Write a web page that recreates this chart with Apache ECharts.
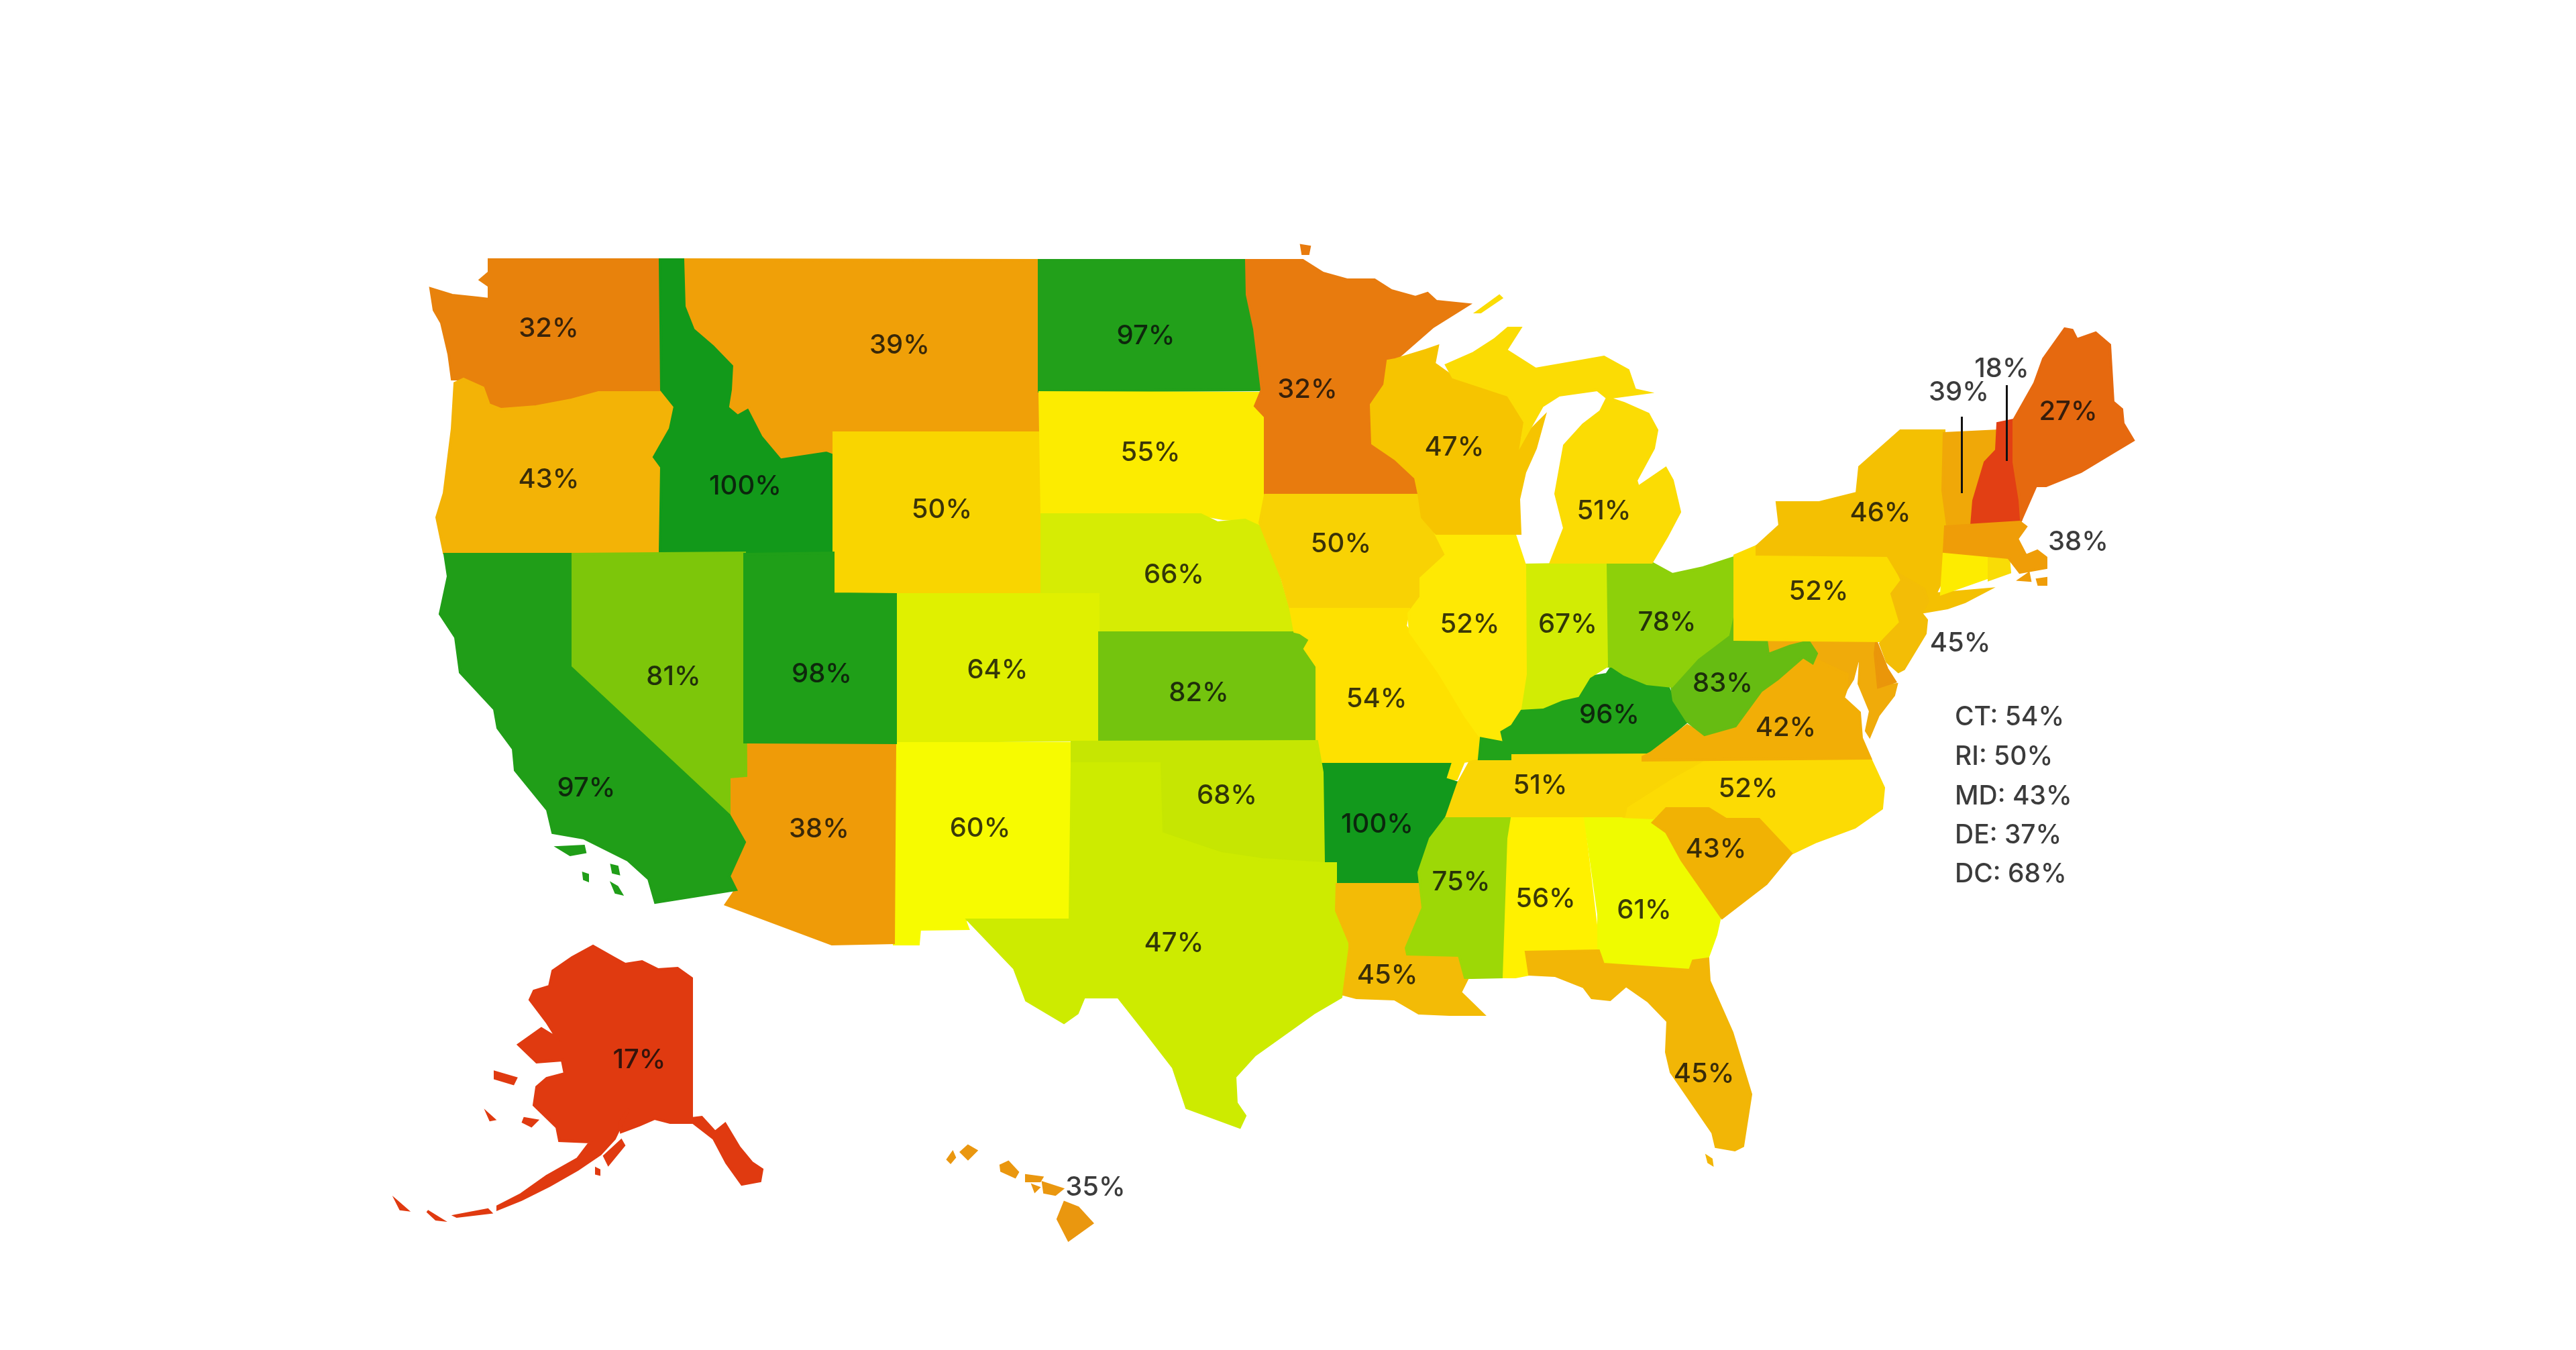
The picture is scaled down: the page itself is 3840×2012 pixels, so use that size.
<!DOCTYPE html>
<html>
<head>
<meta charset="utf-8">
<style>
  html, body { margin: 0; padding: 0; background: #fff; }
  #main { width: 3840px; height: 2012px; }
</style>
<script src="https://cdn.jsdelivr.net/npm/echarts@6/dist/echarts.min.js"></script>
</head>
<body>
<div id="main"></div>
<script>
// values
var stateNames = ["WA","OR","ID","MT","ND","SD","WY","NE","CO","UT","NV","CA","AZ","NM","KS","OK","TX","MN","IA","MO","AR","LA","WI","IL","MI","IN","OH","KY","TN","MS","AL","GA","FL","SC","NC","VA","WV","PA","NY","NJ","VT","NH","ME","MA","AK","HI"];
var stateValues = [32,43,100,39,97,55,50,66,64,98,81,97,38,60,82,68,47,32,50,54,100,45,47,52,51,67,78,96,51,75,56,61,45,43,52,42,83,52,46,45,39,18,27,38,17,35];
var stateColors = ["#e8820c","#f3b306","#12991a","#f0a008","#22a01a","#fcec00","#f9d500","#d6ec04","#e0f000","#1f9f18","#7dc60a","#209e18","#ef9b08","#f7fb00","#74c40e","#c6e602","#cdeb00","#e87b0e","#f8d204","#fee100","#12991c","#f3bb06","#f6c400","#fee904","#fbdc04","#d2ec04","#8dd00a","#22a31a","#f9d504","#9dd806","#fff100","#effb00","#f2b606","#f1b204","#fcdb04","#f2ae06","#66bc12","#fcdc00","#f4c002","#f3bd06","#f0a808","#e23f14","#e6690f","#ef9d08","#e03a10","#ea970f"];
var labelSpots = [[818,490],[818,715],[1111,725],[1341,515],[1708,501],[1715,675],[1404,760],[1750,857],[1487,999],[1225,1005],[1004,1009],[874,1175],[1221,1236],[1461,1235],[1787,1033],[1829,1186],[1750,1406],[1949,581],[1999,811],[2052,1042],[2053,1229],[2068,1454],[2168,667],[2191,931],[2391,762],[2337,931],[2485,928],[2399,1066],[2296,1171],[2178,1315],[2304,1340],[2451,1357],[2540,1601],[2558,1266],[2606,1176],[2662,1085],[2568,1019],[2711,882],[2803,765],[2922,959],[2920,585],[2984,550],[3083,614],[3098,808],[953,1580],[1633,1770]];

// small states that are only listed beside the map
var listNames = ["CT","RI","MD","DE","DC"];
var listValues = [54,50,43,37,68];
var listX = 2914;
var listY = [1069,1128,1187,1245,1303];
var extraNames = ["CT","RI","MD","DE"];
var extraColors = ["#fdec00","#f9dc06","#f0ab0a","#ea960a"];

// leader lines for VT and NH
var leaderLines = [
  [[2924,621],[2924,735]],
  [[2991,574],[2991,687]]
];

// outlines, one list of rings per state, in picture units
var shapes = {
  WA: [[[984,387],[729,387],[729,406],[716,417],[729,426],[729,446],[712,444],[674,440],[642,430],[647,462],[658,481],[669,528],[674,565],[691,565],[720,578],[729,603],[747,610],[799,606],[852,596],[892,585],[986,584]]],
  OR: [[[678,571],[691,565],[720,578],[729,603],[747,610],[799,606],[852,596],[892,585],[986,585],[1006,606],[999,639],[975,681],[986,696],[983,824],[662,824],[651,771],[662,735],[674,639]]],
  ID: [[[984,387],[1022,387],[1024,456],[1037,489],[1066,514],[1095,544],[1093,581],[1089,606],[1100,615],[1116,606],[1138,649],[1165,681],[1232,671],[1240,674],[1243,824],[984,824],[986,696],[975,681],[999,639],[1006,606],[986,581]]],
  MT: [[[1022,387],[1549,388],[1549,643],[1243,646],[1240,674],[1232,671],[1165,681],[1138,649],[1116,606],[1100,615],[1089,606],[1093,581],[1095,544],[1066,514],[1037,489],[1024,456]]],
  WY: [[[1243,645],[1550,645],[1552,884],[1243,884]]],
  ND: [[[1549,388],[1856,388],[1859,439],[1871,490],[1882,581],[1549,583]]],
  SD: [[[1550,585],[1882,586],[1871,605],[1887,621],[1887,736],[1882,783],[1859,775],[1823,773],[1790,767],[1553,767]]],
  NE: [[[1553,767],[1790,767],[1815,779],[1856,775],[1882,787],[1899,834],[1920,906],[1930,941],[1639,941],[1637,886],[1553,884]]],
  CO: [[[1336,886],[1637,886],[1637,1103],[1336,1105]]],
  KS: [[[1639,943],[1938,943],[1953,953],[1945,967],[1963,993],[1963,1103],[1639,1103]]],
  NM: [[[1334,1108],[1597,1108],[1595,1371],[1438,1371],[1443,1384],[1371,1385],[1369,1407],[1333,1407]]],
  AZ: [[[1112,1109],[1334,1109],[1332,1405],[1240,1407],[1082,1348],[1097,1326],[1087,1306],[1110,1255],[1087,1215],[1087,1158],[1112,1156]]],
  NV: [[[850,826],[1110,824],[1112,1156],[1087,1158],[1087,1215],[850,994]]],
  UT: [[[1110,826],[1242,824],[1242,885],[1335,886],[1335,1107],[1110,1106]]],
  CA: [[[663,826],[850,826],[850,994],[1087,1215],[1110,1255],[1087,1306],[1097,1326],[977,1345],[967,1310],[936,1282],[870,1249],[824,1241],[816,1207],[768,1148],[765,1116],[742,1085],[737,1057],[686,1002],[679,950],[656,915],[668,859]],
       [[832,1263],[870,1261],[872,1270],[850,1274]],[[912,1290],[920,1292],[922,1302],[914,1300]],[[870,1302],[876,1304],[876,1312],[871,1310]],[[913,1318],[920,1322],[926,1332],[918,1330]]],
  MN: [[[1858,388],[1942,388],[1972,407],[2008,417],[2049,417],[2074,433],[2110,443],[2128,437],[2141,449],[2189,454],[2136,487],[2080,536],[2069,538],[2064,574],[2044,603],[2046,661],[2080,684],[2110,712],[2113,736],[1886,736],[1886,621],[1871,605],[1881,581],[1870,490],[1859,439]],
       [[1940,366],[1952,368],[1950,378],[1942,378]]],
  IA: [[[1886,738],[2115,738],[2120,771],[2141,795],[2156,827],[2118,862],[2118,890],[2100,908],[1924,908],[1911,862],[1878,779]]],
  MO: [[[1924,908],[2100,908],[2095,933],[2102,942],[2145,1002],[2185,1068],[2205,1096],[2205,1131],[2182,1135],[2171,1161],[2154,1161],[2160,1139],[1968,1139],[1963,1103],[1963,993],[1945,967],[1953,953],[1938,943],[1930,941]]],
  AR: [[[1971,1139],[2161,1139],[2154,1161],[2174,1167],[2162,1205],[2122,1272],[2114,1316],[1993,1316],[1993,1288],[1973,1286]]],
  OK: [[[1598,1106],[1963,1105],[1971,1151],[1973,1285],[1882,1280],[1820,1271],[1734,1242],[1729,1137],[1598,1137]]],
  TX: [[[1598,1138],[1728,1138],[1731,1242],[1820,1272],[1882,1281],[1973,1287],[1991,1287],[1991,1357],[2012,1405],[1999,1486],[1958,1510],[1871,1572],[1841,1605],[1843,1644],[1856,1663],[1848,1680],[1769,1651],[1749,1591],[1708,1538],[1667,1486],[1616,1486],[1606,1510],[1586,1524],[1530,1491],[1512,1443],[1443,1371],[1595,1371]]],
  LA: [[[1993,1318],[2115,1318],[2121,1353],[2096,1413],[2098,1422],[2175,1424],[2187,1459],[2177,1479],[2211,1512],[2161,1512],[2115,1510],[2079,1489],[2022,1487],[2003,1482],[2012,1413],[2012,1405],[1992,1357]]],
  MS: [[[2157,1217],[2251,1217],[2239,1456],[2194,1457],[2184,1457],[2175,1424],[2098,1422],[2096,1413],[2121,1353],[2115,1300],[2132,1250]]],
  AL: [[[2254,1219],[2360,1219],[2383,1412],[2383,1417],[2275,1419],[2280,1452],[2259,1456],[2242,1456],[2249,1250]]],
  GA: [[[2363,1219],[2467,1219],[2484,1237],[2507,1282],[2564,1366],[2558,1393],[2546,1426],[2524,1432],[2519,1446],[2390,1436],[2383,1416],[2383,1363],[2371,1277]]],
  FL: [[[2275,1419],[2383,1417],[2390,1437],[2519,1446],[2524,1432],[2546,1429],[2548,1462],[2582,1539],[2610,1631],[2598,1708],[2586,1714],[2558,1709],[2553,1688],[2491,1598],[2484,1568],[2486,1522],[2457,1492],[2424,1469],[2400,1490],[2373,1487],[2361,1471],[2318,1454],[2280,1452]],
       [[2545,1724],[2551,1728],[2552,1735],[2547,1732]]],
  NC: [[[2536,1133],[2788,1131],[2808,1174],[2805,1205],[2765,1233],[2708,1254],[2670,1272],[2622,1221],[2573,1221],[2547,1205],[2484,1205],[2464,1219],[2421,1217],[2424,1202],[2490,1160]]],
  SC: [[[2464,1226],[2484,1205],[2547,1205],[2573,1221],[2622,1221],[2670,1272],[2633,1317],[2567,1368],[2507,1282],[2484,1240]]],
  TN: [[[2191,1136],[2251,1124],[2449,1124],[2538,1133],[2490,1160],[2424,1202],[2421,1216],[2157,1216],[2174,1167]]],
  KY: [[[2205,1131],[2208,1100],[2234,1102],[2237,1084],[2254,1079],[2263,1056],[2300,1054],[2329,1042],[2352,1037],[2369,1009],[2395,1005],[2403,993],[2421,1005],[2455,1019],[2484,1018],[2495,1044],[2515,1075],[2461,1121],[2251,1122],[2251,1131]]],
  MD: [[[2636,975],[2634,955],[2797,957],[2797,1024],[2827,1020],[2823,1036],[2800,1066],[2787,1097],[2782,1089],[2788,1060],[2771,1019],[2773,985],[2769,985],[2762,1012],[2752,1028],[2754,1005],[2708,984]]],
  DE: [[[2797,957],[2813,997],[2825,1016],[2800,1024],[2795,974]]],
  VA: [[[2449,1128],[2461,1122],[2515,1081],[2541,1095],[2587,1082],[2625,1030],[2650,1012],[2688,979],[2708,984],[2754,1005],[2752,1028],[2748,1040],[2772,1062],[2775,1100],[2788,1130],[2449,1133]]],
  WV: [[[2586,900],[2586,954],[2633,954],[2636,975],[2668,963],[2696,956],[2708,974],[2702,988],[2688,979],[2650,1012],[2625,1030],[2587,1082],[2541,1095],[2515,1075],[2495,1044],[2492,1023],[2530,981],[2576,946]]],
  OH: [[[2396,840],[2462,839],[2493,856],[2539,846],[2585,831],[2586,902],[2576,946],[2530,981],[2492,1023],[2455,1019],[2421,1005],[2403,993],[2395,993]]],
  IN: [[[2272,842],[2393,840],[2395,993],[2369,1009],[2352,1037],[2329,1042],[2300,1054],[2263,1056],[2272,1005]]],
  IL: [[[2141,797],[2258,797],[2273,842],[2274,1005],[2266,1056],[2251,1079],[2234,1089],[2237,1102],[2205,1096],[2185,1068],[2145,1002],[2102,942],[2100,914],[2118,890],[2118,862],[2156,827]]],
  WI: [[[2080,536],[2126,522],[2143,516],[2138,542],[2166,562],[2248,589],[2273,629],[2263,660],[2302,621],[2289,668],[2273,704],[2264,744],[2266,795],[2141,795],[2120,771],[2115,736],[2110,712],[2080,684],[2046,661],[2044,603],[2064,574],[2069,538]]],
  MI: [[[2156,544],[2197,526],[2228,506],[2248,489],[2266,489],[2245,522],[2289,550],[2335,542],[2391,532],[2427,552],[2437,581],[2455,585],[2396,593],[2381,581],[2324,589],[2299,605],[2268,660],[2273,629],[2248,589],[2166,562]],
       [[2396,593],[2421,601],[2457,617],[2470,641],[2465,668],[2439,716],[2442,726],[2483,698],[2493,716],[2504,763],[2485,799],[2462,838],[2312,838],[2332,787],[2319,736],[2332,664],[2360,633],[2386,613]],
       [[2202,465],[2235,441],[2238,444],[2207,465]]],
  PA: [[[2586,828],[2619,814],[2619,826],[2814,828],[2835,865],[2820,885],[2833,928],[2803,955],[2586,953]]],
  NY: [[[2619,814],[2653,783],[2649,749],[2712,749],[2768,735],[2772,696],[2833,642],[2898,642],[2896,731],[2903,781],[2894,867],[2885,885],[2965,878],[2929,897],[2903,906],[2868,912],[2872,890],[2868,878],[2831,856],[2814,828],[2619,826]]],
  NJ: [[[2831,856],[2868,878],[2874,896],[2864,914],[2872,924],[2870,944],[2838,997],[2830,1001],[2813,986],[2803,959],[2833,928],[2820,885],[2835,865]]],
  CT: [[[2898,824],[2965,831],[2965,860],[2894,885]]],
  RI: [[[2965,830],[2994,831],[2996,853],[2965,864]]],
  VT: [[[2898,646],[2978,642],[2976,671],[2959,689],[2942,746],[2937,781],[2903,783],[2896,731]]],
  NH: [[[2978,631],[3002,626],[3002,689],[3011,746],[3013,774],[2994,783],[2939,783],[2942,746],[2959,689],[2976,671]]],
  ME: [[[3002,626],[3033,571],[3046,535],[3078,490],[3089,492],[3096,506],[3124,496],[3145,514],[3150,599],[3163,610],[3165,631],[3180,656],[3150,674],[3102,703],[3050,724],[3035,724],[3013,774],[3011,746],[3002,689]]],
  MA: [[[2900,785],[3011,778],[3020,785],[3007,803],[3020,828],[3037,821],[3050,831],[3050,846],[3011,853],[2994,831],[2898,822]],
       [[3011,864],[3024,855],[3026,865]],[[3037,864],[3050,862],[3050,871],[3039,871]]],
  AK: [[[884,1410],[914,1427],[932,1437],[957,1433],[981,1445],[1010,1443],[1031,1458],[1031,1667],[1046,1665],[1066,1687],[1081,1675],[1102,1710],[1121,1733],[1136,1743],[1133,1760],[1106,1765],[1083,1733],[1064,1697],[1033,1673],[999,1673],[976,1667],[953,1677],[926,1687],[924,1673],[937,1653],[916,1697],[895,1720],[861,1743],[819,1767],[777,1788],[742,1802],[742,1798],[777,1780],[815,1753],[861,1727],[880,1702],[834,1700],[830,1680],[796,1647],[800,1620],[815,1607],[842,1600],[838,1580],[800,1583],[773,1557],[807,1533],[830,1547],[815,1523],[790,1490],[796,1477],[819,1470],[824,1447],[853,1427]],
       [[738,1598],[769,1607],[765,1615],[738,1607]],[[782,1667],[800,1670],[792,1678],[780,1672]],[[926,1700],[930,1707],[907,1735],[901,1723]],[[727,1660],[736,1668],[731,1669]],[[889,1742],[893,1744],[893,1750],[889,1749]],
       [[591,1790],[606,1803],[597,1802]],[[637,1805],[658,1818],[650,1817]],[[679,1812],[727,1803],[731,1807],[681,1813]]],
  HI: [[[1587,1792],[1607,1800],[1628,1823],[1593,1848],[1577,1817]],[[1555,1763],[1583,1772],[1573,1780],[1557,1777]],[[1530,1752],[1553,1755],[1550,1760],[1530,1760]],[[1540,1767],[1548,1770],[1543,1775]],[[1492,1737],[1503,1732],[1517,1747],[1513,1754],[1493,1745]],[[1433,1717],[1443,1708],[1455,1715],[1443,1727]],[[1413,1728],[1420,1718],[1423,1725],[1417,1732]]]
};

var features = Object.keys(shapes).map(function(name) {
  return {
    type: "Feature",
    properties: { name: name },
    geometry: {
      type: "MultiPolygon",
      coordinates: shapes[name].map(function(ring) { return [ring]; })
    }
  };
});
echarts.registerMap("usa", { type: "FeatureCollection", features: features });

function regionStyle(name, color) {
  return {
    name: name,
    itemStyle: { areaColor: color, borderColor: color, borderWidth: 4 }
  };
}
var regions = stateNames.map(function(name, i) {
  return regionStyle(name, stateColors[i]);
}).concat(extraNames.map(function(name, i) {
  return regionStyle(name, extraColors[i]);
}));

var myChart = echarts.init(document.getElementById("main"), null, { renderer: "canvas" });
myChart.setOption({
  animation: false,
  backgroundColor: "#ffffff",
  geo: {
    map: "usa",
    left: 0,
    top: 0,
    right: 0,
    bottom: 0,
    roam: false,
    silent: true,
    projection: {
      project: function(p) { return [p[0], p[1]]; },
      unproject: function(p) { return [p[0], p[1]]; }
    },
    boundingCoords: [[0, 0], [3840, 2012]],
    label: { show: false },
    emphasis: { disabled: true },
    regions: regions
  },
  series: [
    {
      name: "states",
      type: "scatter",
      coordinateSystem: "geo",
      symbolSize: 0,
      silent: true,
      label: {
        show: true,
        position: "inside",
        align: "center",
        verticalAlign: "middle",
        fontFamily: "Inter",
        fontSize: 40,
        fontWeight: 500,
        color: "#0a0a0a",
        formatter: function(p) { return p.value[2] + "%"; }
      },
      data: stateNames.map(function(name, i) {
        return { name: name, value: [labelSpots[i][0], labelSpots[i][1], stateValues[i]] };
      })
    },
    {
      name: "list",
      type: "scatter",
      coordinateSystem: "geo",
      symbolSize: 0,
      silent: true,
      label: {
        show: true,
        position: "inside",
        align: "left",
        verticalAlign: "middle",
        fontFamily: "Inter",
        fontSize: 39,
        fontWeight: 500,
        color: "#0a0a0a",
        formatter: function(p) { return p.name + ": " + p.value[2] + "%"; }
      },
      data: listNames.map(function(name, i) {
        return { name: name, value: [listX, listY[i], listValues[i]] };
      })
    },
    {
      name: "leaders",
      type: "lines",
      coordinateSystem: "geo",
      silent: true,
      symbol: "none",
      lineStyle: { color: "#111111", width: 3, opacity: 1, curveness: 0 },
      data: leaderLines.map(function(line) {
        return { coords: line };
      })
    }
  ]
});
</script>
</body>
</html>
